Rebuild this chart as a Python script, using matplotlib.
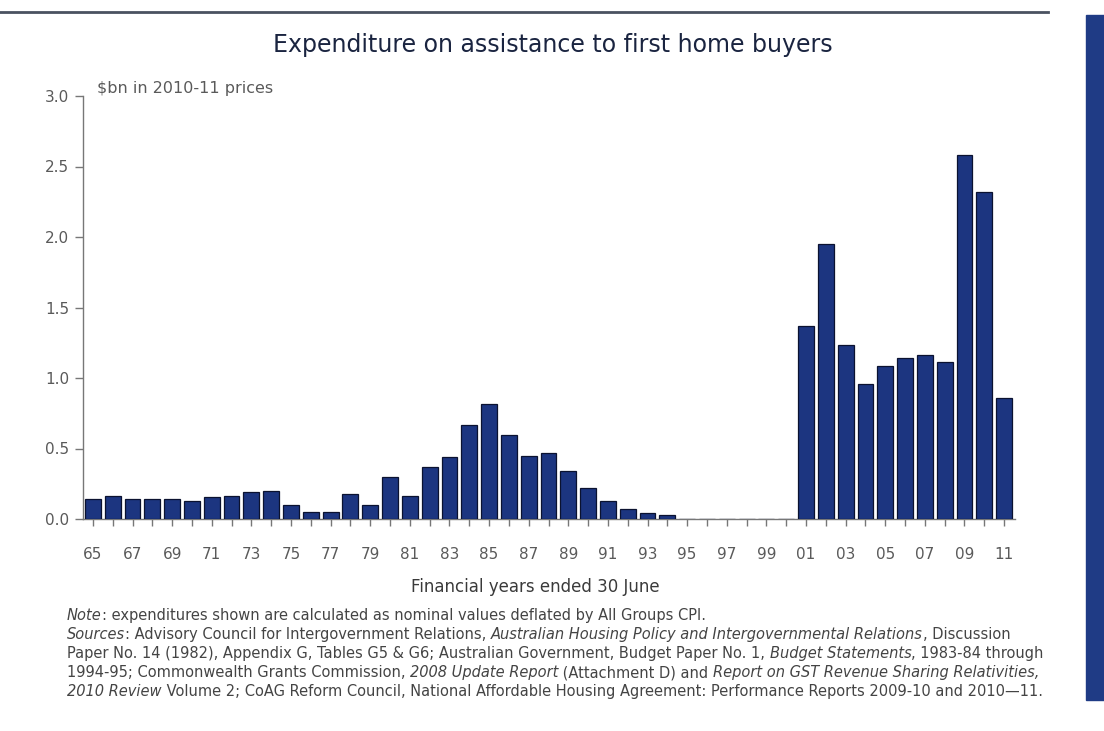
import numpy as np
import matplotlib.pyplot as plt
from matplotlib.patches import Rectangle
from matplotlib.lines import Line2D
from matplotlib.transforms import offset_copy

# financial years ended 30 June, 1965 .. 2011
years = list(range(1965, 2012))
# $bn in 2010-11 prices
values = [0.14, 0.16, 0.14, 0.145, 0.145, 0.125, 0.155, 0.165, 0.195, 0.20,
          0.10, 0.05, 0.05, 0.175, 0.10, 0.295, 0.165, 0.37, 0.44, 0.665,
          0.815, 0.595, 0.445, 0.465, 0.34, 0.22, 0.125, 0.07, 0.045, 0.028,
          0.0, 0.0, 0.0, 0.0, 0.0, 0.0,
          1.37, 1.95, 1.235, 0.96, 1.085, 1.14, 1.165, 1.11, 2.58, 2.32, 0.86]
label_years = years[::2]
y_ticks = [0.0, 0.5, 1.0, 1.5, 2.0, 2.5, 3.0]

title = "Expenditure on assistance to first home buyers"
unit_label = "$bn in 2010-11 prices"
x_label = "Financial years ended 30 June"

# footnote lines as (text, italic) segments
notes = [
    [("Note", True), (": expenditures shown are calculated as nominal values deflated by All Groups CPI.", False)],
    [("Sources", True), (": Advisory Council for Intergovernment Relations, ", False),
     ("Australian Housing Policy and Intergovernmental Relations", True), (", Discussion", False)],
    [("Paper No. 14 (1982), Appendix G, Tables G5 & G6; Australian Government, Budget Paper No. 1, ", False),
     ("Budget Statements", True), (", 1983-84 through", False)],
    [("1994-95; Commonwealth Grants Commission, ", False), ("2008 Update Report", True),
     (" (Attachment D) and ", False), ("Report on GST Revenue Sharing Relativities,", True)],
    [("2010 Review", True), (" Volume 2; CoAG Reform Council, National Affordable Housing Agreement: Performance Reports 2009-10 and 2010\u201411.", False)],
]

navy = '#1c3580'
grey = '#5a5a5a'

fig = plt.figure(figsize=(11.04, 7.31), dpi=100)
ax = fig.add_axes([83 / 1104, 1 - 519 / 731, (1015 - 83) / 1104, (519 - 96) / 731])

ax.bar(years, values, width=0.8, color=navy, edgecolor='#0b1230', linewidth=0.9, zorder=3)

ax.set_xlim(1964.5, 2011.55)
ax.set_ylim(0, 3.0)
ax.set_yticks(y_ticks)
ax.set_yticklabels(["%.1f" % v for v in y_ticks])
ax.set_xticks(years, minor=True)
ax.set_xticks(label_years)
ax.set_xticklabels(["%02d" % (y % 100) for y in label_years])

for s in ['top', 'right']:
    ax.spines[s].set_visible(False)
for s in ['left', 'bottom']:
    ax.spines[s].set_color('#777777')
    ax.spines[s].set_linewidth(1.0)
ax.tick_params(axis='y', length=6, width=1, color='#777777', labelcolor=grey, labelsize=11, pad=4)
ax.tick_params(axis='x', which='both', length=5, width=1, color='#777777', direction='out')
ax.tick_params(axis='x', labelcolor=grey, labelsize=11, pad=15)

t_unit = offset_copy(ax.transAxes, fig=fig, x=0, y=8, units='dots')
ax.text(0.015, 1.0, unit_label, transform=t_unit, fontsize=11.5, color=grey, va='center', ha='left')
ax.set_xlabel(x_label, fontsize=12, color='#3a3a3a', labelpad=12)
ax.xaxis.label.set_x((535 - 83) / 932)

fig.text(553 / 1104, 1 - 45 / 731, title, ha='center', va='center', fontsize=17, color='#1a2440')

# top rule and right-hand panel
fig.add_artist(Line2D([0, 1048 / 1104], [1 - 12 / 731] * 2, color='#4a5260', lw=2))
fig.add_artist(Rectangle((1086 / 1104, 1 - 700 / 731), 18 / 1104, (700 - 15) / 731,
                         color='#1f3b85', transform=fig.transFigure))

# footnotes with italic segments
renderer = fig.canvas.get_renderer()
for i, line in enumerate(notes):
    x = 67 / 1104
    y = 1 - (620 + 19 * i) / 731
    for txt, it in line:
        t = fig.text(x, y, txt, fontsize=10.5, color='#444444', style='italic' if it else 'normal',
                     va='baseline', ha='left')
        bb = t.get_window_extent(renderer=renderer)
        x += bb.width / fig.bbox.width

fig.savefig('out.png', dpi=100)
